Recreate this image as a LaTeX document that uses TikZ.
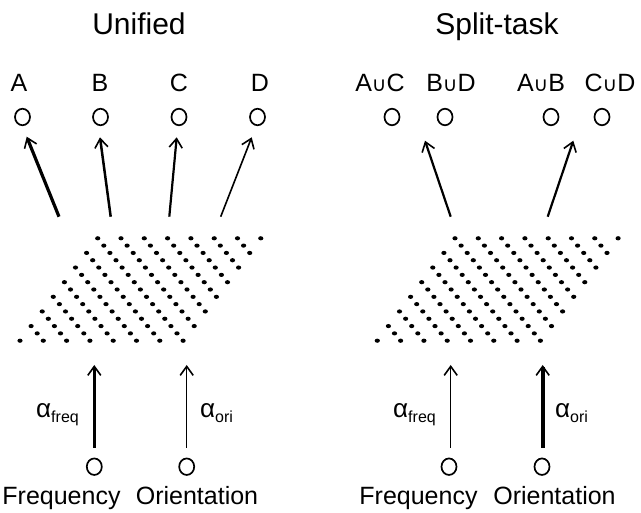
\documentclass[tikz,border=0pt]{standalone}
\usepackage{fontspec}
\setmainfont{Liberation Sans}
\newfontfamily\djv{DejaVu Sans}
\usetikzlibrary{arrows.meta,shapes.geometric}
\tikzset{
  x=1pt,y=-1pt,
  title/.style={anchor=base,inner sep=0pt,font=\fontsize{30}{30}\selectfont},
  lab/.style={anchor=base,inner sep=0pt,font=\fontsize{25}{25}\selectfont},
  unit/.style={draw,line width=1.7pt,shape=ellipse,minimum width=15pt,minimum height=16.5pt,inner sep=0pt},
  dotu/.style={fill=black},
  arr/.style={-{Straight Barb[length=9pt,width=13pt,line width=1.6pt]}},
}
\newcommand{\cupc}{{\djv\fontsize{20}{20}\selectfont ∪}}
\newcommand{\alphalab}[1]{{\fontsize{26}{26}\selectfont α}\raisebox{-5pt}{\fontsize{16}{16}\selectfont #1}}
\newcommand{\dotgrid}[1]{%
  \foreach \i in {0,...,7}{\foreach \j in {0,...,7}{
    \fill[dotu] ({#1+97.7+23.3*\i-11.1*\j},{238.3+14.63*\j}) ellipse [x radius=2.6pt,y radius=2.1pt];}}
  \foreach \i in {0,...,6}{\foreach \j in {0,...,6}{
    \fill[dotu] ({#1+97.7+23.3*(\i+0.5)-11.1*(\j+0.5)},{238.3+14.63*(\j+0.5)}) ellipse [x radius=2.6pt,y radius=2.1pt];}}
}
\begin{document}
\begin{tikzpicture}
\useasboundingbox (0,0) rectangle (641,513);
% titles
\node[title] (tU) at (139,35) {Unified};
\node[title] (tS) at (497,35) {Split-task};
% top labels
\node[lab] (lA) at (19,91.7) {A};
\node[lab] (lB) at (100,91.7) {B};
\node[lab] (lC) at (179,91.7) {C};
\node[lab] (lD) at (260,91.7) {D};
\node[lab] (lAC) at (380,91.7) {A\cupc C};
\node[lab] (lBD) at (451,91.7) {B\cupc D};
\node[lab] (lAB) at (541,91.7) {A\cupc B};
\node[lab] (lCD) at (610,91.7) {C\cupc D};
% top units
\node[unit] (uA) at (22.5,117) {};
\node[unit] (uB) at (100.5,117) {};
\node[unit] (uC) at (179,117) {};
\node[unit] (uD) at (257.5,117) {};
\node[unit] (uAC) at (392,117) {};
\node[unit] (uBD) at (445,117) {};
\node[unit] (uAB) at (551,117) {};
\node[unit] (uCD) at (602,117) {};
% grids
\dotgrid{0}
\dotgrid{357.3}
% top arrow endpoints
\coordinate (sA) at (59,216.7);   \coordinate (hA) at (26.7,136.7);
\coordinate (sB) at (110.7,216.7); \coordinate (hB) at (100,137.3);
\coordinate (sC) at (169.3,216.7); \coordinate (hC) at (176.7,137.3);
\coordinate (sD) at (220.7,216.7); \coordinate (hD) at (251.7,137.3);
\coordinate (sR1) at (450.7,216.7); \coordinate (hR1) at (425,140.7);
\coordinate (sR2) at (547.7,216.7); \coordinate (hR2) at (573.3,140.7);
\draw[arr,line width=3.2pt] (sA) -- (hA);
\draw[arr,line width=2.5pt] (sB) -- (hB);
\draw[arr,line width=2.2pt] (sC) -- (hC);
\draw[arr,line width=1.6pt] (sD) -- (hD);
\draw[arr,line width=2.2pt] (sR1) -- (hR1);
\draw[arr,line width=2.2pt] (sR2) -- (hR2);
% bottom units
\node[unit] (iF1) at (94.3,466.7) {};
\node[unit] (iO1) at (186.7,466.7) {};
\node[unit] (iF2) at (449,466.7) {};
\node[unit] (iO2) at (542,466.7) {};
\coordinate (bF1) at (94.3,448); \coordinate (eF1) at (94.3,365);
\coordinate (bO1) at (186.7,448); \coordinate (eO1) at (186.7,365);
\coordinate (bF2) at (450.7,448); \coordinate (eF2) at (450.7,365);
\coordinate (bO2) at (542.7,448); \coordinate (eO2) at (542.7,365);
\draw[arr,line width=3.6pt] (bF1) -- (eF1);
\draw[arr,line width=1.5pt] (bO1) -- (eO1);
\draw[arr,line width=1.5pt] (bF2) -- (eF2);
\draw[arr,line width=3.6pt] (bO2) -- (eO2);
% alpha labels
\node[anchor=base west,inner sep=0pt] (aF1) at (36,418) {\alphalab{freq}};
\node[anchor=base west,inner sep=0pt] (aO1) at (200,418) {\alphalab{ori}};
\node[anchor=base west,inner sep=0pt] (aF2) at (393,418) {\alphalab{freq}};
\node[anchor=base west,inner sep=0pt] (aO2) at (555,418) {\alphalab{ori}};
% bottom labels
\node[lab] (fF1) at (61.5,505) {Frequency};
\node[lab] (fO1) at (197,505) {Orientation};
\node[lab] (fF2) at (418.5,505) {Frequency};
\node[lab] (fO2) at (554.5,505) {Orientation};
\end{tikzpicture}
\end{document}
